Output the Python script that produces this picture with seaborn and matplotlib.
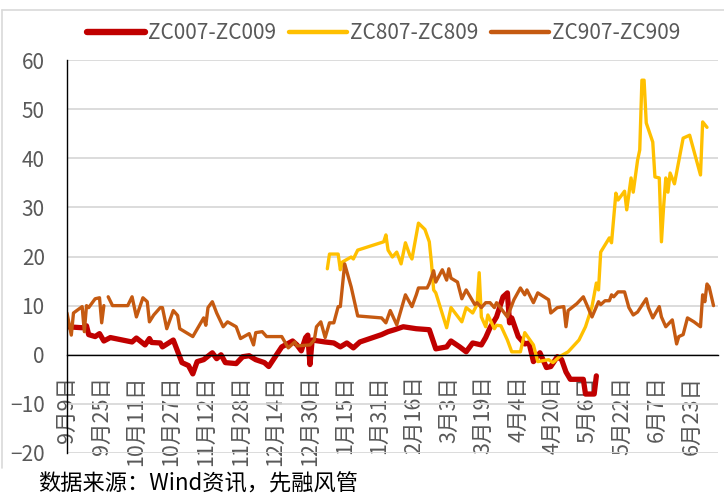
import numpy as np
import pandas as pd
import matplotlib
matplotlib.use('Agg')
import matplotlib.pyplot as plt
import seaborn as sns
from matplotlib.lines import Line2D

# 数据
zc007_dates = ['2019-09-09', '2019-09-16', '2019-09-18', '2019-09-19', '2019-09-22', '2019-09-24',
               '2019-09-26', '2019-09-29', '2019-10-09', '2019-10-11', '2019-10-15', '2019-10-17',
               '2019-10-18', '2019-10-22', '2019-10-23', '2019-10-28', '2019-11-01', '2019-11-04',
               '2019-11-06', '2019-11-08', '2019-11-11', '2019-11-15', '2019-11-17', '2019-11-19',
               '2019-11-21', '2019-11-26', '2019-11-29', '2019-12-02', '2019-12-05', '2019-12-09',
               '2019-12-11', '2019-12-17', '2019-12-22', '2019-12-24', '2019-12-26', '2019-12-28',
               '2019-12-29', '2019-12-30', '2019-12-31', '2020-01-06', '2020-01-10', '2020-01-13',
               '2020-01-16', '2020-01-19', '2020-01-22', '2020-02-01', '2020-02-04', '2020-02-07',
               '2020-02-11', '2020-02-17', '2020-02-23', '2020-02-26', '2020-03-02', '2020-03-04',
               '2020-03-08', '2020-03-11', '2020-03-14', '2020-03-18', '2020-03-20', '2020-03-22',
               '2020-03-25', '2020-03-28', '2020-03-30', '2020-03-31', '2020-04-01', '2020-04-04',
               '2020-04-07', '2020-04-09', '2020-04-11', '2020-04-14', '2020-04-17', '2020-04-19',
               '2020-04-22', '2020-04-24', '2020-04-26', '2020-04-28', '2020-05-04', '2020-05-05',
               '2020-05-09', '2020-05-10']
zc007_values = [5.7, 5.5, 5.9, 4.1, 3.7, 4.3,
                2.8, 3.5, 2.6, 3.4, 2.0, 3.3,
                2.5, 2.4, 1.6, 3.0, -1.6, -2.2,
                -3.9, -1.4, -1.0, 0.4, -0.8, 0.0,
                -1.6, -1.8, -0.4, -0.2, -1.0, -1.6,
                -2.4, 1.6, 2.8, 2.0, 0.8, 3.5,
                4.0, -2.0, 3.0, 2.6, 2.4, 1.6,
                2.4, 1.4, 2.6, 4.1, 4.7, 5.1,
                5.7, 5.3, 5.1, 1.2, 1.6, 2.8,
                1.6, 0.6, 2.4, 2.0, 3.5, 5.5,
                7.7, 11.8, 12.6, 6.5, 7.5, 3.7,
                2.2, 2.4, -1.4, 0.4, -2.6, -2.4,
                -0.4, -1.0, -3.5, -5.0, -5.0, -8.0,
                -8.0, -4.3]

zc807_dates = ['2020-01-07', '2020-01-08', '2020-01-12', '2020-01-13', '2020-01-14', '2020-01-18',
               '2020-01-19', '2020-01-21', '2020-02-02', '2020-02-03', '2020-02-04', '2020-02-06',
               '2020-02-08', '2020-02-10', '2020-02-12', '2020-02-14', '2020-02-15', '2020-02-18',
               '2020-02-21', '2020-02-23', '2020-02-24', '2020-02-25', '2020-02-26', '2020-03-02',
               '2020-03-04', '2020-03-09', '2020-03-11', '2020-03-14', '2020-03-16', '2020-03-17',
               '2020-03-18', '2020-03-20', '2020-03-21', '2020-03-24', '2020-03-25', '2020-03-27',
               '2020-03-30', '2020-04-01', '2020-04-05', '2020-04-07', '2020-04-11', '2020-04-13',
               '2020-04-18', '2020-04-20', '2020-04-23', '2020-04-27', '2020-05-02', '2020-05-05',
               '2020-05-08', '2020-05-10', '2020-05-11', '2020-05-12', '2020-05-16', '2020-05-17',
               '2020-05-19', '2020-05-20', '2020-05-23', '2020-05-24', '2020-05-26', '2020-05-27',
               '2020-05-29', '2020-05-30', '2020-05-31', '2020-06-01', '2020-06-02', '2020-06-05',
               '2020-06-06', '2020-06-08', '2020-06-09', '2020-06-10', '2020-06-11', '2020-06-12',
               '2020-06-13', '2020-06-15', '2020-06-19', '2020-06-22', '2020-06-27', '2020-06-28',
               '2020-06-30']
zc807_values = [17.5, 20.5, 20.5, 17.3, 18.9, 19.9,
                19.5, 21.3, 23.0, 24.4, 21.3, 19.9,
                20.9, 18.5, 22.8, 20.3, 19.5, 26.8,
                25.5, 23.0, 18.7, 13.2, 12.6, 5.5,
                9.6, 6.7, 9.6, 8.5, 10.2, 16.7,
                7.7, 5.7, 8.1, 5.3, 6.0, 5.9,
                3.0, 0.6, 0.6, 4.5, 2.0, -1.4,
                -1.0, -1.6, -0.4, 0.6, 3.0, 5.7,
                9.8, 14.6, 13.2, 20.9, 23.8, 22.8,
                32.9, 31.5, 33.3, 29.5, 36.0, 33.1,
                39.6, 41.7, 55.9, 55.9, 47.2, 43.3,
                36.2, 36.0, 23.0, 30.1, 36.0, 33.1,
                37.0, 34.8, 44.1, 44.7, 36.6, 47.4,
                46.3]

zc907_dates = ['2019-09-09', '2019-09-11', '2019-09-12', '2019-09-16', '2019-09-17', '2019-09-18',
               '2019-09-19', '2019-09-22', '2019-09-24', '2019-09-25', '2019-09-26', '2019-09-27',
               '2019-09-28', '2019-09-30', '2019-10-07', '2019-10-09', '2019-10-11', '2019-10-14',
               '2019-10-16', '2019-10-17', '2019-10-19', '2019-10-22', '2019-10-23', '2019-10-25',
               '2019-10-28', '2019-10-30', '2019-10-31', '2019-11-06', '2019-11-11', '2019-11-12',
               '2019-11-13', '2019-11-15', '2019-11-17', '2019-11-20', '2019-11-22', '2019-11-26',
               '2019-11-28', '2019-12-02', '2019-12-04', '2019-12-05', '2019-12-08', '2019-12-10',
               '2019-12-17', '2019-12-20', '2019-12-23', '2019-12-24', '2019-12-30', '2020-01-01',
               '2020-01-02', '2020-01-04', '2020-01-06', '2020-01-08', '2020-01-10', '2020-01-12',
               '2020-01-13', '2020-01-15', '2020-01-18', '2020-01-21', '2020-02-01', '2020-02-03',
               '2020-02-05', '2020-02-08', '2020-02-12', '2020-02-15', '2020-02-17', '2020-02-18',
               '2020-02-22', '2020-02-23', '2020-02-25', '2020-02-26', '2020-02-29', '2020-03-02',
               '2020-03-03', '2020-03-04', '2020-03-07', '2020-03-09', '2020-03-11', '2020-03-15',
               '2020-03-16', '2020-03-18', '2020-03-20', '2020-03-22', '2020-03-24', '2020-03-25',
               '2020-03-30', '2020-04-02', '2020-04-05', '2020-04-07', '2020-04-08', '2020-04-11',
               '2020-04-13', '2020-04-18', '2020-04-19', '2020-04-22', '2020-04-25', '2020-04-26',
               '2020-04-27', '2020-05-01', '2020-05-04', '2020-05-08', '2020-05-11', '2020-05-12',
               '2020-05-14', '2020-05-16', '2020-05-17', '2020-05-18', '2020-05-20', '2020-05-23',
               '2020-05-25', '2020-05-27', '2020-05-29', '2020-06-02', '2020-06-03', '2020-06-05',
               '2020-06-08', '2020-06-09', '2020-06-11', '2020-06-14', '2020-06-16', '2020-06-17',
               '2020-06-19', '2020-06-21', '2020-06-24', '2020-06-27', '2020-06-28', '2020-06-29',
               '2020-06-30', '2020-07-01', '2020-07-03']
zc907_values = [8.5, 4.0, 8.5, 9.8, 4.7, 10.0,
                9.6, 11.4, 11.6, 6.5, 10.0, np.nan,
                11.8, 10.0, 10.0, 11.8, 7.7, 11.6,
                10.8, 6.7, 8.1, 9.6, 9.6, 5.3,
                9.0, 8.0, 5.3, 3.7, 7.5, 6.0,
                9.6, 10.8, 8.5, 5.7, 6.7, 5.7,
                3.3, 4.3, 2.0, 4.5, 4.7, 3.7,
                3.7, 1.4, 2.6, 1.8, 2.0, 3.0,
                5.7, 6.7, 3.5, 6.5, 6.5, 9.8,
                9.8, 18.5, 13.8, 7.9, 7.5, 6.5,
                9.0, 6.1, 12.2, 9.8, 12.2, 13.6,
                13.6, 14.5, 17.1, 14.8, 17.3, 15.2,
                17.5, 15.6, 14.8, 11.4, 13.2, 10.2,
                10.6, 9.6, 10.6, 10.6, 9.6, 10.6,
                7.7, 11.2, 13.6, 12.2, 13.2, 10.6,
                12.6, 11.2, 8.5, 9.6, 9.8, 5.7,
                9.0, 10.4, 11.8, 7.7, 10.8, 10.2,
                11.0, 11.0, 12.2, 11.8, 12.8, 12.8,
                9.6, 8.1, 8.7, 11.4, 9.6, 7.5,
                9.8, 7.7, 5.7, 7.1, 2.2, 3.7,
                4.1, 7.5, 6.7, 5.7, 12.2, 10.8,
                14.4, 13.8, 10.0]

series_names = ['ZC007-ZC009', 'ZC807-ZC809', 'ZC907-ZC909']
series_colors = ['#C00000', '#FFC000', '#C55A11']
series_widths = [3.8, 2.4, 2.4]

tick_labels = ['9月9日', '9月25日', '10月11日', '10月27日', '11月12日', '11月28日', '12月14日',
               '12月30日', '1月15日', '1月31日', '2月16日', '3月3日', '3月19日', '4月4日',
               '4月20日', '5月6日', '5月22日', '6月7日', '6月23日']

source_text = '数据来源：Wind资讯，先融风管'

frames = []
for name, d, v in zip(series_names,
                      [zc007_dates, zc807_dates, zc907_dates],
                      [zc007_values, zc807_values, zc907_values]):
    df = pd.DataFrame({'date': pd.to_datetime(d), 'value': v})
    df['series'] = name
    df['seg'] = df['value'].isna().cumsum()
    frames.append(df.dropna())
data = pd.concat(frames, ignore_index=True)

sns.set_style('white')
plt.rcParams['font.family'] = ['Noto Sans CJK SC', 'DejaVu Sans']

fig = plt.figure(figsize=(7.24, 4.98), dpi=100)
ax = fig.add_axes([0.0925, 0.0904, 0.899, 0.789])

for name, color, lw in zip(series_names, series_colors, series_widths):
    sub = data[data['series'] == name]
    sns.lineplot(data=sub, x='date', y='value', units='seg', estimator=None,
                 color=color, linewidth=lw, legend=False, ax=ax)

start = pd.Timestamp('2019-09-09')
ax.set_xlim(start, pd.Timestamp('2020-07-05'))
ax.set_ylim(-20, 60)
ax.set_yticks(range(-20, 61, 10))
ax.yaxis.grid(True, color='#D9D9D9', linewidth=1.3)
ax.set_axisbelow(True)

ticks = pd.date_range(start, periods=len(tick_labels), freq='16D')
ax.set_xticks(ticks)
ax.set_xticklabels(tick_labels)

ax.spines['bottom'].set_position(('data', 0))
ax.spines['top'].set_visible(False)
ax.spines['right'].set_visible(False)
for s in ['left', 'bottom']:
    ax.spines[s].set_color('black')
    ax.spines[s].set_linewidth(1.0)

ax.tick_params(axis='x', direction='out', length=4, width=1, color='black',
               labelsize=15.5, labelcolor='#595959', pad=11, labelrotation=90)
ax.tick_params(axis='y', direction='out', length=5, width=1, color='black',
               labelsize=15, labelcolor='#595959', pad=11)
for lab in ax.get_xticklabels():
    lab.set_ha('center')
    lab.set_va('top')
ax.set_xlabel('')
ax.set_ylabel('')

handles = [Line2D([], [], color=c, linewidth=lw + 0.8, solid_capstyle='round')
           for c, lw in zip(series_colors, series_widths)]
fig.legend(handles, series_names, loc='center', bbox_to_anchor=(0.53, 0.934), ncol=3,
           frameon=False, fontsize=15, handlelength=2.8, handletextpad=0.15,
           columnspacing=0.6, labelcolor='#595959')

fig.text(38 / 724, 1 - 484 / 498, source_text, fontsize=16, va='center', ha='left',
         color='black')

fig.add_artist(Line2D([0.003, 1.0], [1 - 10 / 498, 1 - 10 / 498], color='#D9D9D9',
                      linewidth=1.2, transform=fig.transFigure))
fig.add_artist(Line2D([0.003, 0.003], [1 - 10 / 498, 0.06], color='#D9D9D9',
                      linewidth=1.2, transform=fig.transFigure))

fig.savefig('out.png', dpi=100)
